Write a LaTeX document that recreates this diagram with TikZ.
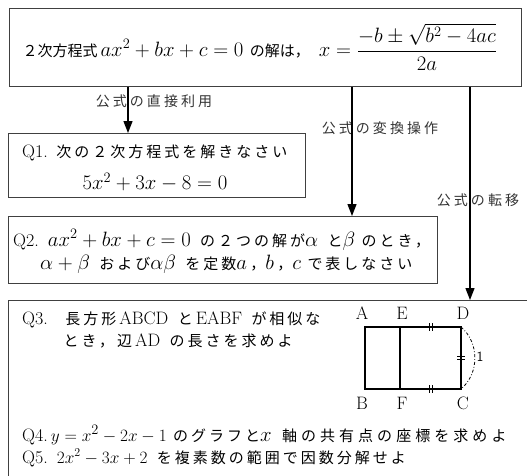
\documentclass[tikz,border=0pt]{standalone}
\usepackage{amsmath}
\usepackage{fontspec}
\newfontfamily\jpa{Noto Sans CJK JP}
\newfontfamily\jpb[LetterSpace=20]{Noto Sans CJK JP}
\newfontfamily\jpc[LetterSpace=20]{Noto Sans CJK JP}
\newfontfamily\jpd[LetterSpace=27]{Noto Sans CJK JP}
\newfontfamily\jpl[LetterSpace=22]{Noto Sans CJK JP}
\newcommand\J[2][\jpb]{{\fontsize{15}{18}\selectfont#1 #2}}
\newcommand\mm[2][20]{{\fontsize{#1}{22}\selectfont$#2$}}
\usetikzlibrary{arrows.meta}
\tikzset{
  box/.style={draw=black!75, line width=0.8pt, anchor=north west, inner sep=0pt},
  txt/.style={inner sep=0pt, anchor=west},
  lbl/.style={inner sep=0pt, font=\fontsize{14}{16}\selectfont\jpl, text=black!80},
  arr/.style={line width=1.3pt, -{Triangle[width=9pt,length=12pt]}},
  fig/.style={line width=1.6pt},
  tick/.style={line width=0.5pt},
  pt/.style={inner sep=0pt, font=\fontsize{18}{20}\selectfont}
}
\begin{document}
\begin{tikzpicture}[x=1pt,y=-1pt,font=\fontsize{18}{21}\selectfont]
\useasboundingbox (0,0) rectangle (527,475);
\clip (0,0) rectangle (527,475);
% boxes
\node[box, minimum width=512pt, minimum height=78pt] (top) at (9,8) {};
\node[box, minimum width=297pt, minimum height=64pt] (q1) at (8,133) {};
\node[box, minimum width=429pt, minimum height=67pt] (q2) at (8,216) {};
\node[box, minimum width=540pt, minimum height=200pt] (q3) at (8,300) {};
% texts
\node[txt] (ttext) at (19,47) {\J[\jpa]{２次方程式}\,\mm[21]{ax^2+bx+c=0}\,\J[\jpa]{の解は，}\enspace\mm{x=\dfrac{-b\pm\sqrt{b^2-4ac}}{2a}}};
\node[txt] (q1a) at (22,153) {Q1.\J{次の２次方程式を解きなさい}};
\node[inner sep=0pt] (q1b) at (155,182) {\mm[21]{5x^2+3x-8=0}};
\node[txt] (q2a) at (13,240) {Q2.\enspace\mm{ax^2+bx+c=0}\,\J[\jpc]{の２つの解が}\mm{\alpha}\,\J[\jpc]{と}\mm{\beta}\J[\jpc]{のとき，}};
\node[txt] (q2b) at (40,264) {\mm{\alpha+\beta}\,\J[\jpc]{および}\mm{\alpha\beta}\,\J[\jpc]{を定数}\mm{a}\J[\jpa]{，}\mm{b}\J[\jpa]{，}\mm{c}\J[\jpc]{で表しなさい}};
\node[txt] (q3a) at (22,320) {Q3.\enspace\J{長方形}\,ABCD\,\J{と}\,EABF\,\J{が相似な}};
\node[txt] (q3b) at (57,341) {\J{とき，辺}\,AD\,\J{の長さを求めよ}};
\node[txt] (q4) at (22,435) {Q4.\,\mm[19]{y=x^2-2x-1}\J[\jpc]{のグラフと}\mm{x}\,\J[\jpd]{軸の共有点の座標を求めよ}};
\node[txt] (q5) at (22,458) {Q5.\enspace\mm[17]{2x^2-3x+2}\,\J[\jpc]{を複素数の範囲で因数分解せよ}};
% arrow labels
\node[lbl] (l1) at (154,101) {公式の直接利用};
\node[lbl] (l2) at (380,128) {公式の変換操作};
\node[lbl] (l3) at (478,200) {公式の転移};
% arrows
\coordinate (a1) at (128,0);
\coordinate (a2) at (352,0);
\coordinate (a3) at (470,0);
\draw[arr] (top.south -| a1) -- (q1.north -| a1);
\draw[arr] (top.south -| a2) -- (q2.north -| a2);
\draw[arr] (top.south -| a3) -- (q3.north -| a3);
% figure
\coordinate (A) at (365,327);
\coordinate (E) at (400,327);
\coordinate (D) at (461,327);
\coordinate (B) at (365,389);
\coordinate (F) at (400,389);
\coordinate (C) at (461,389);
\draw[fig] (A) -- (D) -- (C) -- (B) -- cycle;
\draw[fig] (E) -- (F);
\node[pt] (lA) at (362,313) {A};
\node[pt] (lE) at (402,313) {E};
\node[pt] (lD) at (463,313) {D};
\node[pt] (lB) at (362,403) {B};
\node[pt] (lF) at (402,403) {F};
\node[pt] (lC) at (463,403) {C};
\draw[tick] (429,323) -- (429,331) (432,323) -- (432,331);
\draw[tick] (429,385) -- (429,393) (432,385) -- (432,393);
\draw[tick] (457,356.5) -- (465,356.5) (457,359.5) -- (465,359.5);
\draw[line width=0.8pt, dash dot] (D) to[bend left=50] (C);
\node[inner sep=0pt, font=\fontsize{14}{16}\selectfont\sffamily] (one) at (480,357) {1};
\end{tikzpicture}
\end{document}
